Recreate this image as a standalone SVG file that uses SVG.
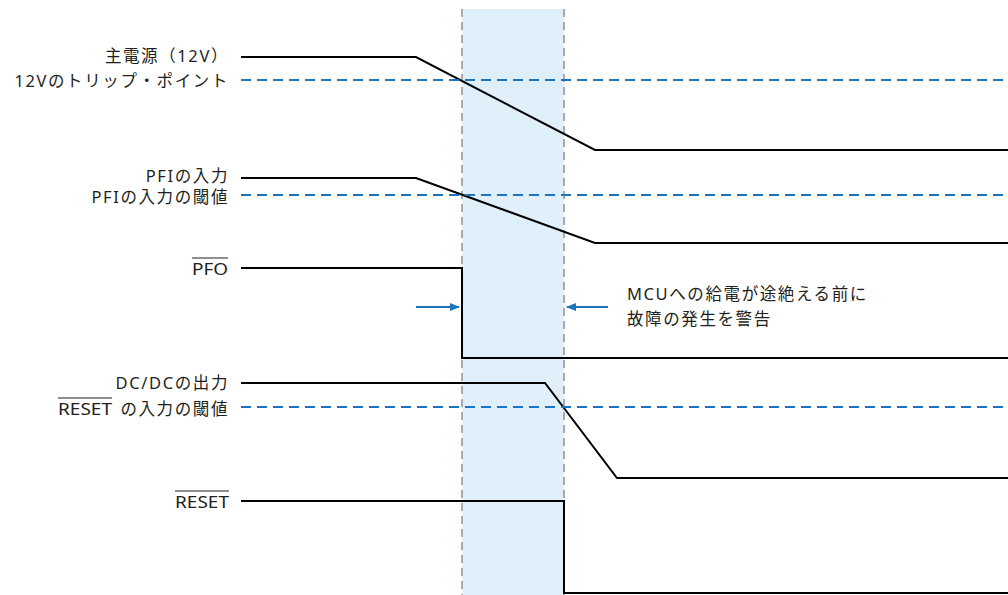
<svg xmlns="http://www.w3.org/2000/svg" width="1008" height="595" viewBox="0 0 1008 595">
<style>
.lbl{font-family:"Noto Sans","Noto Sans CJK JP",sans-serif;font-size:16.5px;letter-spacing:1.6px;fill:#231f20;text-anchor:end}
.ow{font-family:"Noto Sans","Noto Sans CJK JP",sans-serif;font-size:16.5px;fill:#231f20}
.note{font-family:"Noto Sans","Noto Sans CJK JP",sans-serif;font-size:16.5px;letter-spacing:1.6px;fill:#231f20}
.sig{fill:none;stroke:#000;stroke-width:2;stroke-linejoin:miter}
.thr{fill:none;stroke:#1b75bc;stroke-width:2;stroke-dasharray:10 6}
.grid{fill:none;stroke:#a7a9b4;stroke-width:2;stroke-dasharray:8 5}
.arr{fill:none;stroke:#1b75bc;stroke-width:2}
.bar{stroke:#231f20;stroke-width:1.2}
</style>
<defs>
<marker id="ah" markerWidth="10" markerHeight="8" refX="9" refY="4" orient="auto" markerUnits="userSpaceOnUse">
<path d="M0,0 L10,4 L0,8 Z" fill="#1b75bc"/>
</marker>
</defs>
<rect x="462" y="9" width="102" height="586" fill="#dff0fb"/>
<g id="window">
<line class="grid" x1="462" y1="9" x2="462" y2="595"/>
<line class="grid" x1="564" y1="9" x2="564" y2="595"/>
</g>
<g id="connectors">
<polyline class="sig" points="241,57 416,57 595,150 1008,150"/>
<line class="thr" x1="241" y1="80" x2="1008" y2="80"/>
<polyline class="sig" points="241,178 416,178 595,243 1008,243"/>
<line class="thr" x1="241" y1="195" x2="1008" y2="195"/>
<polyline class="sig" points="241,268 462,268 462,358 1008,358"/>
<polyline class="sig" points="241,383 545,383 617,478 1008,478"/>
<line class="thr" x1="241" y1="407" x2="1008" y2="407"/>
<polyline class="sig" points="241,501 564,501 564,593 1008,593"/>
<line class="arr" x1="416" y1="307" x2="459" y2="307" marker-end="url(#ah)"/>
<line class="arr" x1="608" y1="307" x2="567" y2="307" marker-end="url(#ah)"/>
</g>
<g id="main12v"><text class="lbl" x="229" y="62">主電源（12V）</text></g>
<g id="trip12v"><text class="lbl" x="229" y="87">12Vのトリップ・ポイント</text></g>
<g id="pfi"><text class="lbl" x="229" y="182">PFIの入力</text></g>
<g id="pfithr"><text class="lbl" x="229" y="203">PFIの入力の閾値</text></g>
<g id="pfo">
<text class="ow" x="192" y="275" textLength="36" lengthAdjust="spacingAndGlyphs">PFO</text>
<line class="bar" x1="192" y1="258" x2="228" y2="258"/>
</g>
<g id="dcdc"><text class="lbl" x="229" y="389">DC/DCの出力</text></g>
<g id="resetthr">
<text class="ow" x="58" y="415" textLength="54" lengthAdjust="spacingAndGlyphs">RESET</text>
<line class="bar" x1="58" y1="398" x2="112" y2="398"/>
<text class="lbl" x="229" y="415">の入力の閾値</text>
</g>
<g id="reset">
<text class="ow" x="175" y="508" textLength="54" lengthAdjust="spacingAndGlyphs">RESET</text>
<line class="bar" x1="175" y1="491" x2="229" y2="491"/>
</g>
<g id="note">
<text class="note" x="627" y="300">MCUへの給電が途絶える前に</text>
<text class="note" x="627" y="325">故障の発生を警告</text>
</g>
</svg>
